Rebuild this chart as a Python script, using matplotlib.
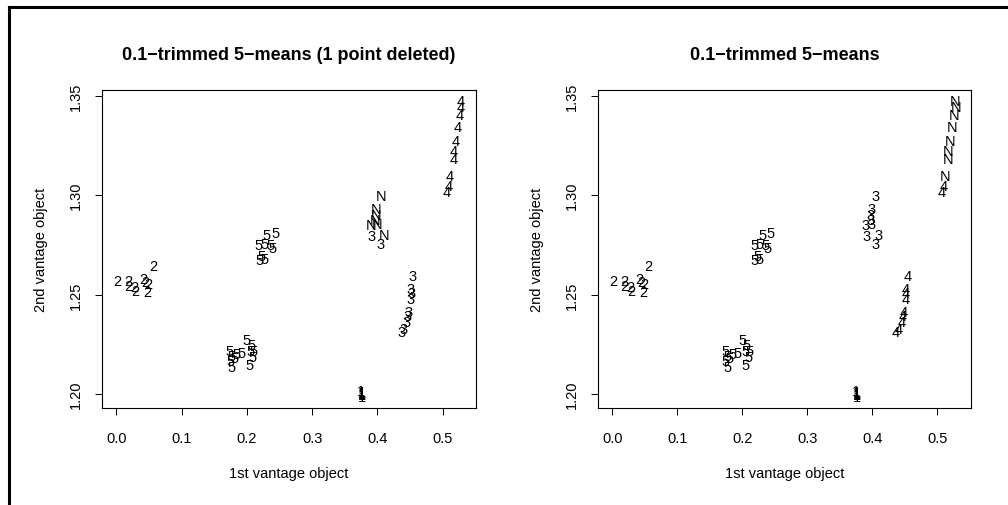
import matplotlib
matplotlib.use("Agg")
import matplotlib.pyplot as plt
from matplotlib.lines import Line2D

plt.rcParams['font.family'] = ['Liberation Sans', 'DejaVu Sans']

# point coordinates, cluster by cluster (same points in both panels)
x_two = [0.001, 0.019, 0.019, 0.029, 0.028, 0.042, 0.045, 0.049, 0.047, 0.056]
y_two = [1.2569, 1.2570, 1.2544, 1.2520, 1.2540, 1.2579, 1.2562, 1.2554, 1.2515, 1.2646]

x_five_up = [0.2307, 0.2440, 0.2180, 0.2266, 0.2358, 0.2389, 0.2195, 0.2266, 0.2230]
y_five_up = [1.2801, 1.2811, 1.2751, 1.2754, 1.2751, 1.2737, 1.2675, 1.2679, 1.2696]

x_five_low = [0.2001, 0.2072, 0.2103, 0.2093, 0.2042, 0.1924, 0.1736, 0.1771,
              0.1746, 0.1766, 0.1807, 0.1848, 0.2052]
y_five_low = [1.2273, 1.2246, 1.2218, 1.2189, 1.2147, 1.2206, 1.2218, 1.2193,
              1.2168, 1.2139, 1.2184, 1.2201, 1.2218]

x_one = [0.375, 0.376, 0.377, 0.376, 0.377, 0.376]
y_one = [1.2018, 1.2008, 1.2000, 1.1995, 1.1988, 1.2012]

x_mid = [0.4050, 0.3985, 0.3975, 0.3970, 0.3990, 0.3900, 0.3910, 0.4100, 0.4055]
y_mid = [1.2996, 1.2933, 1.2901, 1.2876, 1.2853, 1.2849, 1.2793, 1.2799, 1.2754]

x_low3 = [0.4543, 0.4513, 0.4518, 0.4513, 0.4477, 0.4467, 0.4451, 0.4400, 0.4365]
y_low3 = [1.2595, 1.2531, 1.2508, 1.2478, 1.2414, 1.2391, 1.2364, 1.2327, 1.2310]

x_top = [0.5278, 0.5283, 0.5258, 0.5232, 0.5197, 0.5166, 0.5166, 0.5115, 0.5094, 0.5064]
y_top = [1.3475, 1.3445, 1.3404, 1.3344, 1.3274, 1.3223, 1.3182, 1.3098, 1.3044, 1.3014]

# labels of each cluster in the two panels
lab_mid_left = ['N', 'N', 'N', 'N', 'N', 'N', '3', 'N', '3']
lab_mid_right = ['3'] * 9
lab_low3_left = ['3'] * 9
lab_low3_right = ['4'] * 9
lab_top_left = ['4'] * 10
lab_top_right = ['N'] * 8 + ['4'] * 2

titles = ["0.1\u2212trimmed 5\u2212means (1 point deleted)", "0.1\u2212trimmed 5\u2212means"]
xticks = [0.0, 0.1, 0.2, 0.3, 0.4, 0.5]
yticks = [1.20, 1.25, 1.30, 1.35]

xs = x_two + x_five_up + x_five_low + x_one + x_mid + x_low3 + x_top
ys = y_two + y_five_up + y_five_low + y_one + y_mid + y_low3 + y_top
common = ['2'] * len(x_two) + ['5'] * len(x_five_up) + ['5'] * len(x_five_low) + ['1'] * len(x_one)
labels_left = common + lab_mid_left + lab_low3_left + lab_top_left
labels_right = common + lab_mid_right + lab_low3_right + lab_top_right

W, H = 1008, 506
fig = plt.figure(figsize=(W / 100, H / 100), dpi=100)

# frame of the original page (only top and left edges visible)
fig.add_artist(Line2D([8.5 / W, 1], [1 - 7.5 / H, 1 - 7.5 / H], color='black', lw=2.2,
                      transform=fig.transFigure))
fig.add_artist(Line2D([8.5 / W, 8.5 / W], [0, 1 - 7.5 / H], color='black', lw=2.2,
                      transform=fig.transFigure))

boxes = [(102.3, 476.0), (598.3, 970.7)]
top_px, bot_px = 90.7, 409.3

for i, (l, r) in enumerate(boxes):
    ax = fig.add_axes([l / W, 1 - bot_px / H, (r - l) / W, (bot_px - top_px) / H])
    labs = labels_left if i == 0 else labels_right
    for x, y, s in zip(xs, ys, labs):
        ax.text(x, y, s, ha='center', va='center', fontsize=10.5)
    ax.set_xlim(-0.0215, 0.5512)
    ax.set_ylim(1.1929, 1.3530)
    ax.set_xticks(xticks)
    ax.set_xticklabels(["%.1f" % t for t in xticks])
    ax.set_yticks(yticks)
    ax.set_yticklabels(["%.2f" % t for t in yticks], rotation=90, va='center')
    ax.tick_params(direction='out', length=5, width=0.7, labelsize=10.5)
    ax.tick_params(axis='x', pad=11)
    ax.tick_params(axis='y', pad=9)
    for sp in ax.spines.values():
        sp.set_linewidth(0.8)
    ax.set_xlabel("1st vantage object", fontsize=10.5, va='center')
    ax.xaxis.set_label_coords(0.5, -0.203)
    ax.set_ylabel("2nd vantage object", fontsize=10.5, va='center')
    ax.yaxis.set_label_coords(-0.165, 0.5)
    ax.text(0.5, 1.112, titles[i], transform=ax.transAxes, ha='center', va='center',
            fontsize=13, fontweight='bold')

fig.savefig("out.png", dpi=100)
